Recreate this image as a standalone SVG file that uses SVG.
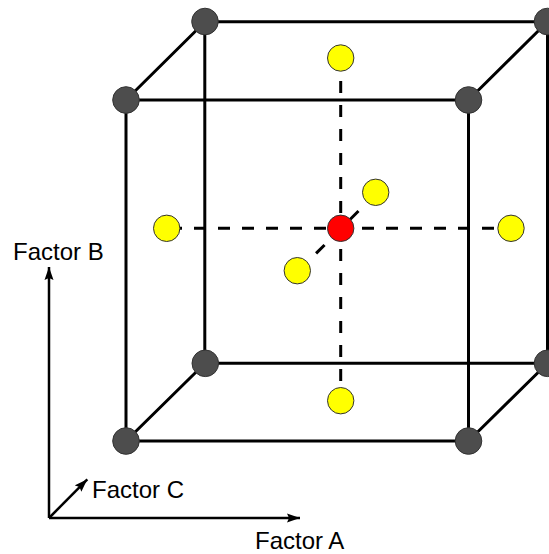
<svg xmlns="http://www.w3.org/2000/svg" width="549" height="554" viewBox="0 0 549 554">
<style>
.edge{stroke:#000;stroke-width:3;fill:none;stroke-linecap:butt}
.dash{stroke:#000;stroke-width:3;fill:none;stroke-dasharray:12 12}
.axis{stroke:#000;stroke-width:2.500;fill:none}
.corner{fill:#4d4d4d;stroke:#333;stroke-width:1}
.star{fill:#ffff00;stroke:#333;stroke-width:1}
.center{fill:#ff0000;stroke:#333;stroke-width:1}
text{font-family:"Liberation Sans",Arial,sans-serif;font-size:24px;fill:#000}
</style>
<defs>
<marker id="arrow" markerUnits="userSpaceOnUse" markerWidth="14" markerHeight="10" refX="13" refY="5" orient="auto"><path d="M0 0.500 L13 5 L0 9.500 L2 5 Z" fill="#000"/></marker>
</defs>
<g id="connectors">
<path class="edge" d="M205 21.700H547.500M126 100H468.500M205 363.300H547.500M126 441H468.500M126 100V441M468.500 100V441M204.800 21.700V363.300M547.500 21.700V363.300M126 100L205 21.700M468.500 100L547.500 21.700M126 441L205 363.300M468.500 441L547.500 363.300"/>
<path class="dash" d="M340.700 81V381"/>
<path class="dash" d="M170 228.200H494"/>
<path class="dash" d="M358.500 211L316 253.500"/>
<path class="axis" d="M49 518V267" marker-end="url(#arrow)"/>
<path class="axis" d="M49 518H300" marker-end="url(#arrow)"/>
<path class="axis" d="M49 518L87.300 479.300" marker-end="url(#arrow)"/>
</g>
<g id="corner-back-top-left"><circle class="corner" cx="205" cy="21.500" r="13.300"/></g>
<g id="corner-back-top-right"><circle class="corner" cx="547.500" cy="21.500" r="13.300"/></g>
<g id="corner-front-top-left"><circle class="corner" cx="126" cy="100" r="13.300"/></g>
<g id="corner-front-top-right"><circle class="corner" cx="468.500" cy="100" r="13.300"/></g>
<g id="corner-back-bottom-left"><circle class="corner" cx="205.300" cy="363.300" r="13.300"/></g>
<g id="corner-back-bottom-right"><circle class="corner" cx="547.500" cy="363.300" r="13.300"/></g>
<g id="corner-front-bottom-left"><circle class="corner" cx="126" cy="441" r="13.300"/></g>
<g id="corner-front-bottom-right"><circle class="corner" cx="468.500" cy="441" r="13.300"/></g>
<g id="star-top"><circle class="star" cx="340.700" cy="58" r="13.200"/></g>
<g id="star-bottom"><circle class="star" cx="340.700" cy="400.700" r="13.200"/></g>
<g id="star-left"><circle class="star" cx="166.700" cy="228.300" r="13.200"/></g>
<g id="star-right"><circle class="star" cx="511" cy="228.300" r="13.200"/></g>
<g id="star-back"><circle class="star" cx="375.700" cy="192.300" r="13.200"/></g>
<g id="star-front"><circle class="star" cx="297.300" cy="270.700" r="13.200"/></g>
<g id="center-point"><circle class="center" cx="340.700" cy="228.300" r="13.200"/></g>
<g id="label-a"><text x="255" y="548.500">Factor A</text></g>
<g id="label-b"><text x="13" y="259.500">Factor B</text></g>
<g id="label-c"><text x="92" y="498">Factor C</text></g>
</svg>
